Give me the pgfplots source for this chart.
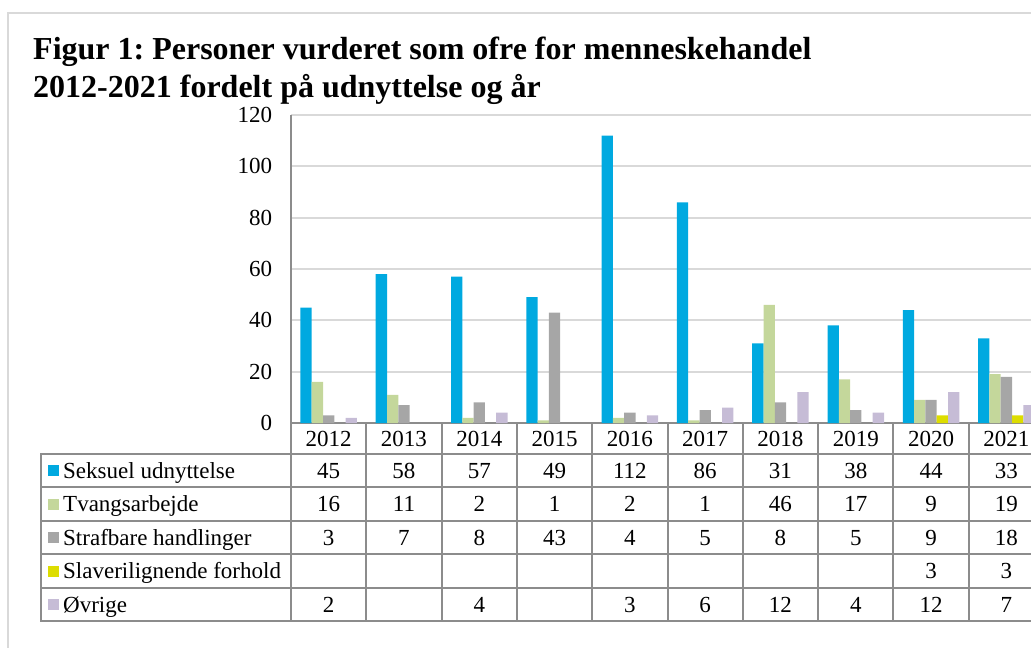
\documentclass[border=0pt]{standalone}
\usepackage{fontspec}
\setmainfont{Liberation Serif}
\usepackage{pgfplots}
\pgfplotsset{compat=1.18}
\definecolor{cBlue}{HTML}{00A9E0}
\definecolor{cGreen}{HTML}{C4D79B}
\definecolor{cGray}{HTML}{A6A6A6}
\definecolor{cYellow}{HTML}{DDDD00}
\definecolor{cPurple}{HTML}{C6BCD6}
\definecolor{gridc}{HTML}{D9D9D9}
\definecolor{tabc}{HTML}{8C8C8C}
\frenchspacing
\begin{document}
\begin{tikzpicture}
\fontsize{23}{27}\selectfont
% outer frame
\draw[gridc, line width=2pt] (8pt,-660pt) -- (8pt,-13pt) -- (1045pt,-13pt);
% title
\node[anchor=base west, inner sep=0pt, font=\fontsize{32}{34}\selectfont\bfseries] at (33pt,-59pt) {Figur 1: Personer vurderet som ofre for menneskehandel};
\node[anchor=base west, inner sep=0pt, font=\fontsize{32}{34}\selectfont\bfseries] at (33pt,-97pt) {2012-2021 fordelt på udnyttelse og år};
\begin{axis}[
  at={(291pt,-423pt)}, anchor=south west,
  scale only axis, width=753pt, height=308pt,
  xmin=-0.5, xmax=9.5, ymin=0, ymax=120,
  ytick={0,20,...,120}, xtick=\empty,
  ymajorgrids, grid style={gridc, line width=2pt},
  axis x line*=bottom, axis y line*=left,
  axis line style={tabc, line width=2pt, -},
  major tick length=0pt,
  yticklabel style={font=\fontsize{23}{23}\selectfont, xshift=-11pt},
  /pgf/number format/assume math mode=true,
  ybar=0pt, bar width=11.3pt,
  clip=false,
]
\addplot[fill=cBlue, draw=none] coordinates {(0,45) (1,58) (2,57) (3,49) (4,112) (5,86) (6,31) (7,38) (8,44) (9,33)};
\addplot[fill=cGreen, draw=none] coordinates {(0,16) (1,11) (2,2) (3,1) (4,2) (5,1) (6,46) (7,17) (8,9) (9,19)};
\addplot[fill=cGray, draw=none] coordinates {(0,3) (1,7) (2,8) (3,43) (4,4) (5,5) (6,8) (7,5) (8,9) (9,18)};
\addplot[fill=cYellow, draw=none] coordinates {(8,3) (9,3)};
\addplot[fill=cPurple, draw=none] coordinates {(0,2) (2,4) (4,3) (5,6) (6,12) (7,4) (8,12) (9,7)};
\end{axis}
\begin{scope}[x=1pt, y=-1pt]
  \foreach \yy in {454,487,521,554,588,621} {
    \draw[tabc, line width=2pt] (41,\yy) -- (1050,\yy);
  }
  \draw[tabc, line width=2pt] (41,453) -- (41,622);
  \foreach \k in {0,...,10} {
    \draw[tabc, line width=2pt] (291+75.3*\k,423) -- (291+75.3*\k,622);
  }
  \foreach \yr [count=\i from 0] in {2012,2013,2014,2015,2016,2017,2018,2019,2020,2021} {
    \node[anchor=base, inner sep=0pt] at (328.65+75.3*\i,446) {\yr};
  }
  % legend column
  \foreach \c/\lab [count=\r from 0] in {cBlue/Seksuel udnyttelse, cGreen/Tvangsarbejde, cGray/Strafbare handlinger, cYellow/Slaverilignende forhold, cPurple/Øvrige} {
    \pgfmathsetmacro{\cy}{470.5+33.5*\r}
    \fill[\c] (48,\cy-5.5) rectangle (59,\cy+5.5);
    \node[anchor=base west, inner sep=0pt] at (63,\cy+7.5) {\lab};
  }
  % values
  \foreach \v [count=\i from 0] in {45,58,57,49,112,86,31,38,44,33} {
    \node[anchor=base, inner sep=0pt] at (328.65+75.3*\i,478) {\v};
  }
  \foreach \v [count=\i from 0] in {16,11,2,1,2,1,46,17,9,19} {
    \node[anchor=base, inner sep=0pt] at (328.65+75.3*\i,511.5) {\v};
  }
  \foreach \v [count=\i from 0] in {3,7,8,43,4,5,8,5,9,18} {
    \node[anchor=base, inner sep=0pt] at (328.65+75.3*\i,545) {\v};
  }
  \foreach \v [count=\i from 8] in {3,3} {
    \node[anchor=base, inner sep=0pt] at (328.65+75.3*\i,578.5) {\v};
  }
  \foreach \v/\i in {2/0,4/2,3/4,6/5,12/6,4/7,12/8,7/9} {
    \node[anchor=base, inner sep=0pt] at (328.65+75.3*\i,612) {\v};
  }
\end{scope}
\pgfresetboundingbox
\path[use as bounding box] (0pt,0pt) rectangle (1031pt,-648pt);
\end{tikzpicture}
\end{document}
